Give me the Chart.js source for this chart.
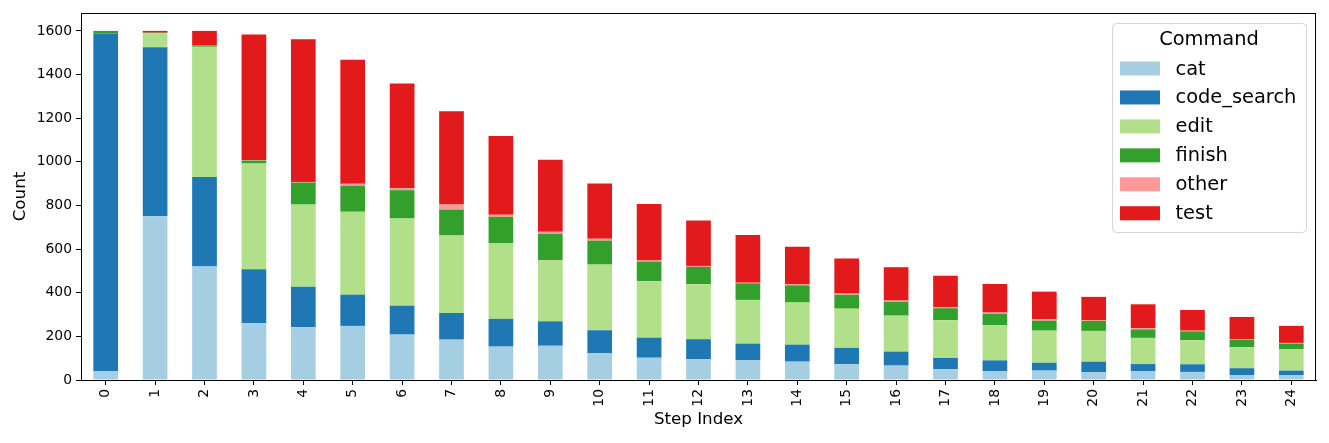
<!DOCTYPE html>
<html>
<head>
<meta charset="utf-8">
<script src="https://cdn.jsdelivr.net/npm/chart.js@4"></script>
<style>
  body { margin: 0; background: #fff; }
  #wrap { width: 1329px; height: 443px; }
</style>
</head>
<body>
<div id="wrap"><canvas id="myChart" width="1329" height="443"></canvas></div>
<script>
// step index 0..24
const steps = ["0","1","2","3","4","5","6","7","8","9","10","11","12","13","14","15","16","17","18","19","20","21","22","23","24"];
const yTicks = [0, 200, 400, 600, 800, 1000, 1200, 1400, 1600];

// counts
const cat = [40, 750, 520, 260, 242, 248, 208, 185, 153, 157, 122, 102, 96, 90, 84, 72, 66, 50, 41, 43, 35, 41, 37, 23, 23];
const codeSearch = [1548, 775, 410, 248, 185, 143, 133, 122, 127, 112, 106, 92, 91, 77, 78, 75, 64, 51, 49, 36, 49, 32, 35, 31, 20];
const edit = [0, 65, 597, 484, 377, 380, 399, 355, 348, 281, 301, 259, 252, 200, 193, 180, 165, 173, 161, 147, 141, 120, 110, 96, 99];
const finish = [12, 2, 7, 14, 101, 120, 130, 119, 120, 120, 110, 90, 79, 76, 79, 64, 64, 55, 53, 46, 46, 39, 41, 35, 25];
const other = [0, 0, 0, 2, 3, 8, 9, 23, 9, 9, 8, 7, 5, 3, 5, 5, 5, 4, 5, 6, 4, 5, 3, 3, 3];
const test = [0, 8, 66, 575, 654, 569, 480, 428, 361, 330, 254, 257, 208, 219, 172, 161, 153, 145, 131, 127, 106, 110, 95, 101, 78];

const seriesNames = ["cat", "code_search", "edit", "finish", "other", "test"];
const seriesData = [cat, codeSearch, edit, finish, other, test];
const colors = ["#a6cee3", "#1f78b4", "#b2df8a", "#33a02c", "#fb9a99", "#e31a1c"];

const FONT = "'DejaVu Sans', 'Liberation Sans', sans-serif";

// frame around the plot + the boxed legend in the top right corner
const framePlugin = {
  id: "frameLegend",
  afterDraw(chart) {
    const ctx = chart.ctx;
    const a = chart.chartArea;
    ctx.save();
    ctx.strokeStyle = "#000";
    ctx.lineWidth = 1;
    ctx.strokeRect(Math.round(a.left) + 0.5, Math.round(a.top) + 0.5,
      Math.round(a.right - a.left) - 1, Math.round(a.bottom - a.top));

    // legend box
    const w = 194, h = 209;
    const x = a.right - 10 - w;
    const y = a.top + 10;
    ctx.fillStyle = "rgba(255,255,255,0.8)";
    ctx.strokeStyle = "#d6d6d6";
    ctx.beginPath();
    ctx.roundRect(x + 0.5, y + 0.5, w, h, 4);
    ctx.fill();
    ctx.stroke();

    ctx.fillStyle = "#000";
    ctx.font = "19.4px " + FONT;
    ctx.textBaseline = "middle";
    ctx.textAlign = "center";
    ctx.fillText("Command", x + w / 2, y + 17);

    ctx.textAlign = "left";
    chart.data.datasets.forEach((ds, i) => {
      const cy = y + 45.5 + i * 28.95;
      ctx.fillStyle = ds.backgroundColor;
      ctx.fillRect(x + 8, cy - 7, 40, 14);
      ctx.fillStyle = "#000";
      ctx.fillText(ds.label, x + 63.5, cy + 1);
    });
    ctx.restore();
  },
};

const datasets = [];
for (let i = 0; i < seriesNames.length; i++) {
  datasets.push({
    label: seriesNames[i],
    data: seriesData[i],
    backgroundColor: colors[i],
    borderWidth: 0,
    barPercentage: 0.5,
    categoryPercentage: 1.0,
  });
}

const ctx = document.getElementById("myChart");
new Chart(ctx, {
  type: "bar",
  data: { labels: steps, datasets: datasets },
  options: {
    responsive: false,
    animation: false,
    devicePixelRatio: 1,
    layout: { padding: { left: 0, right: 13, top: 13, bottom: 0 } },
    plugins: {
      legend: { display: false },
      tooltip: { enabled: false },
    },
    scales: {
      x: {
        stacked: true,
        offset: true,
        grid: { display: true, drawOnChartArea: false, offset: false, tickLength: 5, color: "#000" },
        border: { display: true, color: "#000", width: 1 },
        ticks: {
          minRotation: 90,
          maxRotation: 90,
          padding: 4,
          color: "#000",
          font: { family: FONT, size: 13.9 },
        },
        title: {
          display: true,
          text: "Step Index",
          color: "#000",
          font: { family: FONT, size: 16.7, lineHeight: 1.2 },
          padding: { top: 0, bottom: 13 },
        },
        afterFit(scale) { scale.height = 63; },
      },
      y: {
        stacked: true,
        min: 0,
        max: 1682,
        grid: { display: true, drawOnChartArea: false, tickLength: 5, color: "#000" },
        border: { display: true, color: "#000", width: 1 },
        ticks: {
          stepSize: 200,
          padding: 4,
          color: "#000",
          font: { family: FONT, size: 13.9 },
          callback: (v) => String(v),
        },
        afterBuildTicks(scale) {
          scale.ticks = yTicks.map((v) => ({ value: v }));
        },
        title: {
          display: true,
          text: "Count",
          color: "#000",
          font: { family: FONT, size: 16.7, lineHeight: 1.2 },
          padding: { top: 11, bottom: 0 },
        },
        afterFit(scale) { scale.width = 81; },
      },
    },
  },
  plugins: [framePlugin],
});
</script>
</body>
</html>
